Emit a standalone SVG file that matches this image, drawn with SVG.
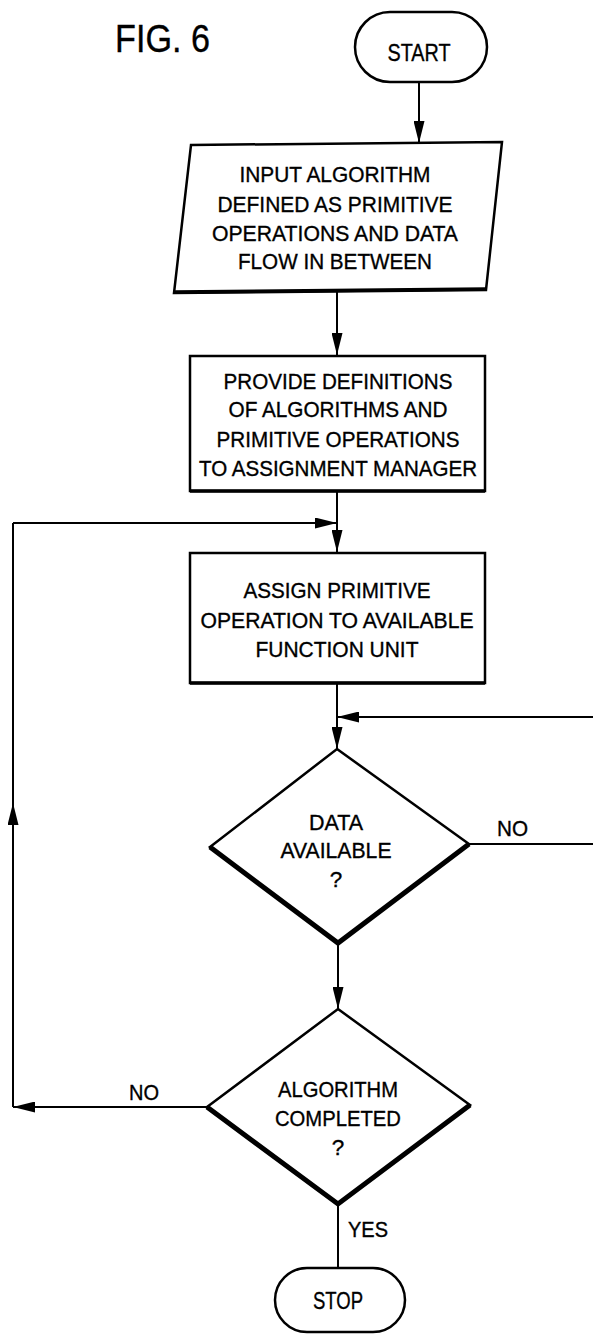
<svg xmlns="http://www.w3.org/2000/svg" width="593" height="1335" viewBox="0 0 593 1335">
<style>
text{font-family:"Liberation Sans",Arial,sans-serif;fill:#000;text-anchor:middle;stroke:#000;stroke-width:0.35}
.t{font-size:22.5px}
.lab{font-size:22px;text-anchor:start}
.term{font-size:24px}
.shape{fill:#fff;stroke:#000;stroke-width:2.5}
.heavy{fill:none;stroke:#000;stroke-width:5;stroke-linejoin:miter}
.edge{fill:none;stroke:#000;stroke-width:3.5}
.conn{fill:none;stroke:#000;stroke-width:2}
</style>
<defs>
<marker id="ah" markerUnits="userSpaceOnUse" viewBox="0 0 22 11" refX="22" refY="5.5" markerWidth="22" markerHeight="11" orient="auto">
<path d="M0,0 L22,5.5 L0,11 z" fill="#000"/>
</marker>
</defs>
<rect width="593" height="1335" fill="#fff"/>
<text id="title" x="115" y="52" font-size="38" style="text-anchor:start" textLength="95" lengthAdjust="spacingAndGlyphs">FIG. 6</text>
<g id="connectors">
<path class="conn" d="M419,82 V143" marker-end="url(#ah)"/>
<path class="conn" d="M337,291 V355" marker-end="url(#ah)"/>
<path class="conn" d="M337,491 V552" marker-end="url(#ah)"/>
<path class="conn" d="M13,523 H337" marker-end="url(#ah)"/>
<path class="conn" d="M337,683 V749" marker-end="url(#ah)"/>
<path class="conn" d="M469,844 H593"/>
<path class="conn" d="M593,717 H337" marker-end="url(#ah)"/>
<path class="conn" d="M338,943 V1009" marker-end="url(#ah)"/>
<path class="conn" d="M207,1107 H13" marker-end="url(#ah)"/>
<path class="conn" d="M13,1107 V803" marker-end="url(#ah)"/>
<path class="conn" d="M13,805 V523"/>
<path class="conn" d="M338,1204 V1268"/>
<text class="lab" x="497" y="836" textLength="31" lengthAdjust="spacingAndGlyphs">NO</text>
<text class="lab" x="129" y="1100" textLength="30" lengthAdjust="spacingAndGlyphs">NO</text>
<text class="lab" x="348" y="1237" textLength="40" lengthAdjust="spacingAndGlyphs">YES</text>
</g>
<g id="start">
<rect class="shape" x="355" y="12" width="132" height="70" rx="35"/>
<text class="term" x="419" y="61" textLength="63" lengthAdjust="spacingAndGlyphs">START</text>
</g>
<g id="input">
<polygon class="shape" points="191,145 502,142 486,290 174,293"/>
<path class="edge" d="M174,292 L486,289"/>
<text class="t" x="335" y="182" textLength="191" lengthAdjust="spacingAndGlyphs">INPUT ALGORITHM</text>
<text class="t" x="335" y="212" textLength="235" lengthAdjust="spacingAndGlyphs">DEFINED AS PRIMITIVE</text>
<text class="t" x="335" y="241" textLength="246" lengthAdjust="spacingAndGlyphs">OPERATIONS AND DATA</text>
<text class="t" x="335" y="269" textLength="194" lengthAdjust="spacingAndGlyphs">FLOW IN BETWEEN</text>
</g>
<g id="provide">
<rect class="shape" x="190" y="356" width="295" height="135"/>
<path class="edge" d="M190,491 H485"/>
<text class="t" x="338" y="389" textLength="229" lengthAdjust="spacingAndGlyphs">PROVIDE DEFINITIONS</text>
<text class="t" x="338" y="417" textLength="219" lengthAdjust="spacingAndGlyphs">OF ALGORITHMS AND</text>
<text class="t" x="338" y="447" textLength="243" lengthAdjust="spacingAndGlyphs">PRIMITIVE OPERATIONS</text>
<text class="t" x="338" y="476" textLength="278" lengthAdjust="spacingAndGlyphs">TO ASSIGNMENT MANAGER</text>
</g>
<g id="assign">
<rect class="shape" x="190" y="553" width="295" height="130"/>
<path class="edge" d="M190,683 H485"/>
<text class="t" x="337" y="598" textLength="187" lengthAdjust="spacingAndGlyphs">ASSIGN PRIMITIVE</text>
<text class="t" x="337" y="628" textLength="273" lengthAdjust="spacingAndGlyphs">OPERATION TO AVAILABLE</text>
<text class="t" x="337" y="657" textLength="163" lengthAdjust="spacingAndGlyphs">FUNCTION UNIT</text>
</g>
<g id="data-available">
<polygon class="shape" points="337,749 469,844 338,943 210,847"/>
<polyline class="heavy" points="210,847 338,943 469,844"/>
<text class="t" x="336" y="830" textLength="54" lengthAdjust="spacingAndGlyphs">DATA</text>
<text class="t" x="336" y="858" textLength="111" lengthAdjust="spacingAndGlyphs">AVAILABLE</text>
<text class="t" x="336" y="887">?</text>
</g>
<g id="algorithm-completed">
<polygon class="shape" points="338,1009 470,1105 338,1204 207,1107"/>
<polyline class="heavy" points="207,1107 338,1204 470,1105"/>
<text class="t" x="338" y="1097" textLength="120" lengthAdjust="spacingAndGlyphs">ALGORITHM</text>
<text class="t" x="338" y="1126" textLength="126" lengthAdjust="spacingAndGlyphs">COMPLETED</text>
<text class="t" x="338" y="1155">?</text>
</g>
<g id="stop">
<rect class="shape" x="275" y="1268" width="130" height="64" rx="32"/>
<text class="term" x="338" y="1309" textLength="50" lengthAdjust="spacingAndGlyphs">STOP</text>
</g>
</svg>
